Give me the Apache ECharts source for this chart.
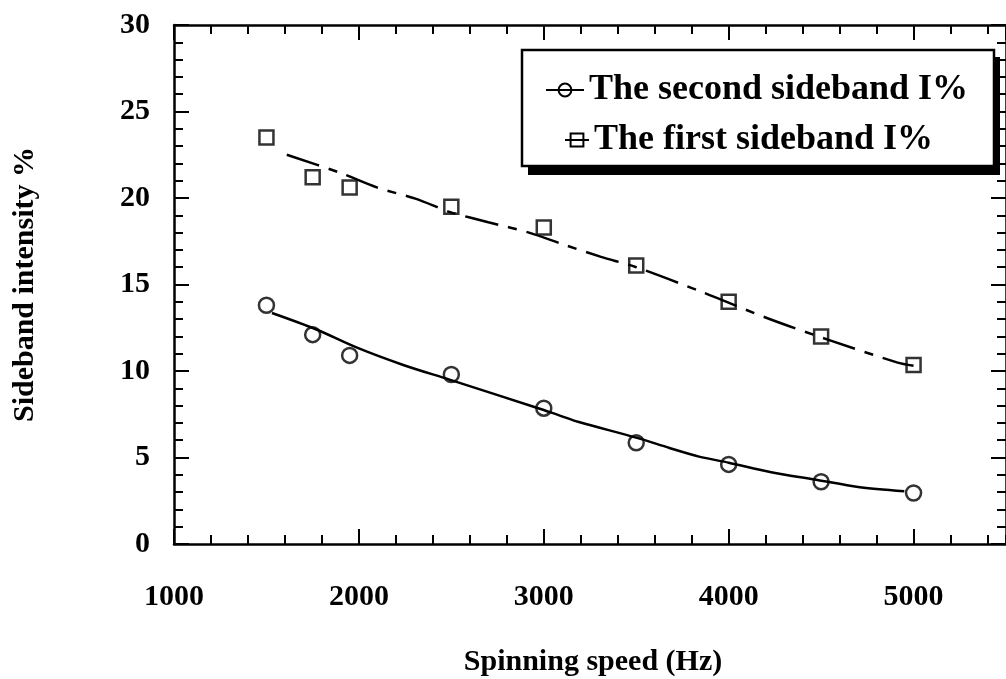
<!DOCTYPE html>
<html>
<head>
<meta charset="utf-8">
<script src="https://cdn.jsdelivr.net/npm/echarts@6/dist/echarts.min.js"></script>
<style>
  html, body { margin: 0; padding: 0; background: #fff; }
  #chart { width: 1006px; height: 679px; }
</style>
</head>
<body>
<div id="chart"></div>
<script>
// Measured spinning speeds (Hz)
const spinSpeed = [1500, 1750, 1950, 2500, 3000, 3500, 4000, 4500, 5000];
// Sideband intensities (%)
const firstSideband = [23.5, 21.2, 20.6, 19.5, 18.3, 16.1, 14.0, 12.0, 10.35];
const secondSideband = [13.8, 12.1, 10.9, 9.8, 7.85, 5.85, 4.6, 3.6, 2.95];

// Fitted trend curves
const firstFitX = [1610, 1900, 2100, 2310, 2490, 2700, 2920, 3110, 3310, 3500, 3860, 4210, 4540, 4910, 5000];
const firstFitY = [22.5, 21.45, 20.6, 19.95, 19.2, 18.6, 18.0, 17.3, 16.6, 16.0, 14.55, 13.05, 11.8, 10.5, 10.3];
const secondFitX = [1530, 1770, 1990, 2240, 2490, 2970, 3080, 3190, 3500, 3680, 3840, 4000, 4230, 4480, 4700, 4950];
const secondFitY = [13.35, 12.4, 11.35, 10.35, 9.5, 7.85, 7.45, 7.05, 6.15, 5.55, 5.05, 4.7, 4.15, 3.7, 3.3, 3.05];

const seriesNames = ['The second sideband I%', 'The first sideband I%'];
const axisTitles = { x: 'Spinning speed (Hz)', y: 'Sideband intensity %' };

// Axis ranges
const xRange = { min: 1000, max: 5500, major: 1000, minor: 200 };
const yRange = { min: 0, max: 30, major: 5 };

const FONT = '"Liberation Serif", "DejaVu Serif", serif';
const pairs = (xs, ys) => xs.map((x, i) => [x, ys[i]]);
const plain = v => String(v);

const majorTick = { show: true, inside: true, length: 15, lineStyle: { color: '#000', width: 2 } };
const minorTickAsMajor = { show: true, inside: true, length: 9, lineStyle: { color: '#000', width: 2 } };
const minorStyle = { show: true, splitNumber: 5, length: 9, lineStyle: { color: '#000', width: 2 } };
const axisLine = () => ({ show: true, onZero: false, lineStyle: { color: '#000', width: 2.5 } });
const labelStyle = { color: '#000', fontFamily: FONT, fontWeight: 'bold', fontSize: 30, formatter: plain };

// Builds a horizontal axis; the minor variant only carries the 200 Hz ticks
function xAxisDef(position, withLabels, minorOnly) {
  return {
    type: 'value', position: position, offset: 0,
    min: xRange.min, max: xRange.max,
    interval: minorOnly ? xRange.minor : xRange.major,
    axisLine: minorOnly ? { show: false, onZero: false } : axisLine(),
    axisTick: minorOnly ? minorTickAsMajor : majorTick,
    splitLine: { show: false },
    axisLabel: withLabels
      ? Object.assign({ margin: 38, showMaxLabel: false }, labelStyle)
      : { show: false }
  };
}

const chart = echarts.init(document.getElementById('chart'), null, { renderer: 'canvas' });

chart.setOption({
  backgroundColor: '#fff',
  animation: false,
  title: {
    text: axisTitles.x,
    left: 588,
    top: 642,
    textAlign: 'center',
    textStyle: { color: '#000', fontFamily: FONT, fontWeight: 'bold', fontSize: 30 }
  },
  grid: { left: 174, top: 25, right: 0, bottom: 135 },
  xAxis: [
    xAxisDef('bottom', true, false),
    xAxisDef('top', false, false),
    xAxisDef('bottom', false, true),
    xAxisDef('top', false, true)
  ],
  yAxis: [
    {
      type: 'value', position: 'left', min: yRange.min, max: yRange.max, interval: yRange.major,
      axisLine: axisLine(), axisTick: majorTick, minorTick: minorStyle,
      splitLine: { show: false },
      axisLabel: Object.assign({ margin: 24 }, labelStyle),
      name: axisTitles.y, nameLocation: 'middle', nameRotate: 90, nameGap: 134,
      nameTextStyle: { color: '#000', fontFamily: FONT, fontWeight: 'bold', fontSize: 30 }
    },
    {
      type: 'value', position: 'right', min: yRange.min, max: yRange.max, interval: yRange.major,
      axisLine: axisLine(), axisTick: majorTick, minorTick: minorStyle,
      splitLine: { show: false }, axisLabel: { show: false }
    }
  ],
  graphic: [
    { type: 'rect', z: 10, shape: { x: 528, y: 57, width: 472, height: 118 }, style: { fill: '#000' } },
    { type: 'rect', z: 11, shape: { x: 522, y: 50, width: 472, height: 116 }, style: { fill: '#fff', stroke: '#000', lineWidth: 2.5 } }
  ],
  legend: [
    {
      z: 20, left: 540, top: 67, orient: 'horizontal',
      data: [seriesNames[0]], itemWidth: 38, itemHeight: 16,
      lineStyle: { type: 'solid', width: 2 },
      textStyle: { color: '#000', fontFamily: FONT, fontWeight: 'bold', fontSize: 36 }
    },
    {
      z: 20, left: 559, top: 117, orient: 'horizontal',
      data: [seriesNames[1]], itemWidth: 24, itemHeight: 16,
      lineStyle: { type: 'solid', width: 2 },
      textStyle: { color: '#000', fontFamily: FONT, fontWeight: 'bold', fontSize: 36 }
    }
  ],
  series: [
    {
      name: seriesNames[0], type: 'line', data: pairs(secondFitX, secondFitY),
      smooth: 0.3, symbol: 'circle', showSymbol: false,
      itemStyle: { color: 'rgba(0,0,0,0)', borderColor: '#000', borderWidth: 2 },
      lineStyle: { color: '#000', width: 2.5 }
    },
    {
      name: seriesNames[1], type: 'line', data: pairs(firstFitX, firstFitY),
      smooth: 0.3, symbol: 'rect', showSymbol: false,
      itemStyle: { color: 'rgba(0,0,0,0)', borderColor: '#000', borderWidth: 2 },
      lineStyle: { color: '#000', width: 2.5, type: [34, 10, 9, 10] }
    },
    {
      name: 'second-points', type: 'scatter', data: pairs(spinSpeed, secondSideband),
      symbol: 'circle', symbolSize: 15,
      itemStyle: { color: 'rgba(0,0,0,0)', borderColor: '#000', borderWidth: 2.5 }
    },
    {
      name: 'first-points', type: 'scatter', data: pairs(spinSpeed, firstSideband),
      symbol: 'rect', symbolSize: 14,
      itemStyle: { color: 'rgba(0,0,0,0)', borderColor: '#000', borderWidth: 2.5 }
    }
  ]
});
</script>
</body>
</html>
